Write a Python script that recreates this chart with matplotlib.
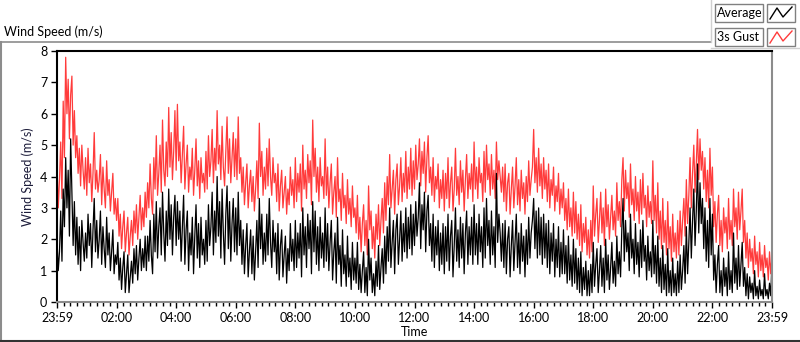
import numpy as np
import matplotlib.pyplot as plt
from matplotlib.patches import Rectangle
from matplotlib.lines import Line2D

plt.rcParams['font.family'] = ['Lato', 'DejaVu Sans']

# 2.5-minute samples, 23:59 -> 23:59 (one hour = 2 rows)
gust = [
    4.4, 3.0, 3.9, 5.1, 3.3, 6.4, 4.6, 7.8, 6.0, 7.1, 5.2, 6.6,
    7.2, 5.0, 6.1, 4.6, 5.3, 4.1, 4.9, 3.7, 5.0, 4.2, 3.6, 4.6,
    3.4, 4.9, 3.8, 4.4, 3.2, 4.1, 5.4, 3.6, 4.2, 3.5, 3.9, 4.7,
    3.1, 4.3, 3.6, 3.0, 4.5, 3.4, 3.9, 2.9, 3.5, 4.1, 2.8, 3.3,
    2.6, 3.3, 2.1, 2.8, 1.7, 2.4, 2.9, 1.6, 2.2, 2.7, 1.5, 2.1,
    2.6, 1.8, 2.9, 2.2, 3.1, 2.0, 2.7, 3.4, 2.3, 3.0, 2.4, 3.5,
    2.7, 3.8, 3.0, 4.4, 3.3, 2.8, 4.6, 3.6, 5.3, 3.4, 4.1, 5.0,
    3.5, 5.8, 4.2, 3.7, 5.1, 4.0, 6.2, 4.3, 5.4, 3.9, 4.8, 6.1,
    4.2, 6.3, 4.5, 5.1, 3.8, 4.7, 5.6, 3.6, 4.4, 5.0, 3.5, 4.3,
    3.9, 4.9, 3.4, 4.2, 5.2, 3.7, 4.5, 3.3, 4.6, 3.8, 4.1, 3.5,
    4.8, 3.6, 5.3, 4.0, 4.5, 5.5, 3.8, 4.9, 4.2, 6.1, 4.4, 5.0,
    3.9, 5.6, 4.3, 3.7, 4.8, 5.9, 4.1, 5.2, 3.8, 4.6, 5.4, 4.0,
    5.2, 3.9, 5.9, 4.1, 4.6, 3.5, 4.3, 3.1, 3.8, 4.4, 3.0, 3.7,
    4.2, 3.2, 4.0, 2.9, 3.6, 4.5, 3.3, 5.7, 4.0, 4.8, 3.4, 4.3,
    3.6, 4.9, 3.7, 5.2, 4.0, 3.4, 4.6, 3.8, 4.1, 3.2, 4.4, 2.9,
    3.7, 4.2, 3.0, 3.5, 4.0, 2.8, 3.6, 3.1, 4.3, 3.4, 3.9, 3.0,
    4.6, 3.2, 4.1, 3.5, 4.4, 2.9, 5.0, 3.6, 4.2, 3.3, 4.7, 3.8,
    4.5, 3.1, 5.8, 4.0, 4.9, 3.5, 4.3, 3.2, 4.6, 3.7, 4.0, 3.3,
    5.2, 3.4, 4.3, 3.0, 3.8, 4.4, 2.8, 3.5, 4.0, 2.7, 4.6, 3.2,
    3.6, 2.6, 4.1, 3.0, 3.4, 2.5, 3.9, 2.8, 3.3, 2.4, 3.7, 2.7,
    3.0, 2.2, 3.4, 2.0, 2.7, 1.6, 2.5, 3.1, 1.8, 2.6, 1.5, 3.7,
    2.3, 2.9, 1.7, 2.4, 1.4, 2.8, 2.0, 3.1, 1.8, 2.6, 3.3, 2.2,
    3.8, 2.6, 4.0, 3.1, 4.7, 3.0, 3.6, 4.2, 2.8, 3.9, 4.4, 3.1,
    3.7, 4.6, 3.2, 4.1, 3.5, 4.8, 3.3, 4.3, 3.6, 4.9, 3.4, 4.5,
    3.6, 5.0, 3.9, 4.4, 5.2, 3.7, 4.8, 4.1, 5.1, 3.5, 4.6, 5.3,
    3.8, 4.3, 3.4, 4.6, 3.2, 4.0, 3.6, 4.4, 3.0, 3.9, 3.3, 4.2,
    2.9, 4.1, 3.3, 4.6, 3.0, 3.8, 4.3, 2.9, 3.6, 4.9, 3.4, 4.0,
    3.1, 4.5, 3.5, 4.2, 2.9, 3.9, 4.7, 3.3, 4.1, 3.6, 4.4, 3.2,
    5.1, 3.6, 4.3, 3.3, 4.6, 3.8, 4.1, 3.2, 4.8, 3.5, 5.0, 3.9,
    4.4, 3.4, 4.7, 3.6, 4.2, 3.3, 5.1, 3.9, 4.5, 4.0, 3.5, 4.3,
    3.2, 4.4, 2.9, 3.8, 4.1, 2.8, 3.6, 4.3, 3.0, 3.7, 4.6, 3.1,
    3.9, 2.9, 4.2, 3.3, 3.8, 2.8, 4.0, 3.2, 4.5, 3.4, 3.9, 4.3,
    5.5, 3.8, 4.6, 3.5, 4.9, 3.7, 4.4, 3.3, 4.6, 3.6, 4.2, 3.2,
    4.4, 3.0, 3.9, 3.4, 4.3, 2.9, 3.7, 3.2, 4.1, 2.8, 3.6, 3.0,
    3.8, 2.6, 3.3, 2.3, 3.6, 2.4, 3.0, 2.1, 3.5, 2.2, 3.2, 2.0,
    2.8, 1.8, 3.1, 1.6, 2.5, 1.9, 2.7, 1.5, 2.3, 1.4, 2.6, 1.6,
    3.7, 2.1, 2.8, 3.3, 1.9, 2.6, 3.5, 2.2, 3.0, 1.8, 3.6, 2.4,
    3.1, 2.0, 2.7, 3.4, 2.3, 2.9, 2.1, 3.8, 2.6, 3.2, 2.4, 3.9,
    4.6, 2.9, 4.2, 3.3, 3.8, 2.7, 4.4, 3.1, 3.6, 2.6, 4.0, 2.9,
    3.5, 2.5, 3.9, 2.8, 4.1, 3.0, 3.4, 2.4, 3.7, 2.7, 3.2, 2.5,
    4.5, 2.6, 3.4, 2.2, 3.8, 2.0, 2.9, 1.7, 3.3, 1.9, 2.6, 1.5,
    3.2, 1.7, 2.4, 1.3, 2.8, 1.6, 2.2, 1.4, 2.6, 1.5, 2.9, 1.8,
    2.6, 3.3, 2.1, 3.9, 2.5, 3.4, 4.6, 3.0, 4.1, 5.0, 3.5, 4.4,
    5.5, 3.9, 5.2, 4.2, 4.8, 3.6, 4.6, 3.2, 4.2, 3.0, 4.9, 3.4,
    4.3, 2.4, 3.2, 1.9, 2.8, 3.4, 1.8, 2.6, 1.6, 3.0, 2.2, 2.7,
    1.7, 3.3, 2.0, 2.6, 1.8, 3.6, 2.4, 3.0, 2.0, 3.5, 2.3, 2.9,
    3.6, 1.9, 2.6, 1.4, 2.2, 1.1, 2.0, 1.3, 1.7, 0.9, 2.1, 1.2,
    1.6, 0.8, 1.9, 1.0, 1.5, 0.8, 1.8, 1.1, 1.4, 0.7, 1.6, 0.9,
    1.45,
]
average = [
    2.0, 1.0, 1.6, 2.9, 1.3, 3.6, 2.4, 4.6, 3.0, 4.2, 2.1, 5.2,
    3.5, 1.8, 3.2, 1.5, 2.7, 1.2, 2.4, 1.0, 2.6, 1.9, 1.3, 2.2,
    1.4, 2.8, 1.8, 2.5, 1.1, 2.3, 3.3, 1.6, 2.6, 1.4, 2.0, 2.9,
    1.2, 2.4, 1.7, 1.1, 2.7, 1.5, 2.2, 1.0, 1.6, 2.3, 0.9, 1.5,
    1.2, 1.9, 0.7, 1.4, 0.4, 1.1, 1.6, 0.3, 0.9, 1.5, 0.3, 0.8,
    1.3, 0.6, 1.7, 0.9, 1.8, 0.7, 1.4, 2.0, 1.0, 1.7, 1.1, 2.1,
    1.0, 2.1, 1.3, 2.6, 1.5, 0.9, 2.8, 1.6, 3.2, 1.4, 2.4, 3.0,
    1.5, 3.5, 2.2, 1.3, 2.9, 1.8, 3.6, 2.0, 3.1, 1.5, 2.7, 3.4,
    1.8, 3.2, 2.0, 2.9, 1.3, 2.4, 3.4, 1.2, 2.3, 2.9, 1.0, 2.2,
    1.5, 2.7, 0.9, 2.1, 3.1, 1.4, 2.5, 1.1, 2.7, 1.5, 2.0, 1.2,
    2.6, 1.3, 3.1, 1.8, 2.4, 3.5, 1.5, 2.9, 1.9, 4.0, 2.1, 3.2,
    1.4, 3.6, 2.2, 1.2, 2.8, 3.7, 1.7, 3.2, 1.3, 2.5, 3.3, 1.6,
    3.0, 1.5, 3.5, 1.8, 2.6, 1.2, 2.3, 0.9, 1.8, 2.5, 0.8, 1.6,
    2.3, 0.9, 2.1, 0.7, 1.6, 2.6, 1.1, 3.3, 1.7, 2.8, 1.2, 2.2,
    1.3, 2.8, 1.5, 3.3, 1.9, 1.1, 2.6, 1.6, 2.2, 0.9, 2.5, 0.7,
    1.8, 2.3, 0.8, 1.5, 2.1, 0.6, 1.7, 1.0, 2.5, 1.3, 2.0, 1.0,
    2.6, 1.1, 2.2, 1.4, 2.5, 0.8, 3.0, 1.5, 2.4, 1.1, 2.8, 1.7,
    2.6, 0.9, 3.2, 1.6, 2.9, 1.2, 2.4, 1.0, 2.7, 1.4, 2.2, 1.1,
    3.0, 1.3, 2.5, 1.0, 1.9, 2.6, 0.7, 1.6, 2.2, 0.6, 2.7, 1.2,
    1.8, 0.5, 2.3, 0.9, 1.5, 0.5, 2.1, 0.8, 1.4, 0.4, 1.9, 0.7,
    1.4, 0.6, 1.9, 0.4, 1.2, 0.3, 1.0, 1.6, 0.3, 1.1, 0.2, 2.0,
    0.7, 1.4, 0.3, 0.9, 0.2, 1.3, 0.5, 1.8, 0.4, 1.1, 1.7, 0.6,
    2.1, 0.9, 2.4, 1.3, 3.0, 1.1, 1.9, 2.6, 0.9, 2.3, 2.8, 1.2,
    2.0, 2.9, 1.3, 2.5, 1.6, 3.0, 1.4, 2.7, 1.7, 3.1, 1.5, 2.8,
    1.8, 3.2, 2.1, 2.7, 3.8, 1.7, 3.1, 2.3, 3.5, 1.6, 2.9, 3.4,
    1.8, 2.5, 1.3, 2.8, 1.1, 2.4, 1.5, 2.6, 1.0, 2.2, 1.2, 2.5,
    0.9, 2.4, 1.3, 2.8, 1.0, 2.1, 2.6, 0.8, 1.8, 3.0, 1.3, 2.3,
    1.1, 2.7, 1.4, 2.5, 0.9, 2.2, 2.9, 1.2, 2.4, 1.5, 2.7, 1.2,
    3.1, 1.5, 2.5, 1.2, 2.8, 1.6, 2.4, 1.1, 3.0, 1.4, 3.3, 1.8,
    2.6, 1.2, 2.9, 1.5, 2.4, 1.1, 4.1, 1.9, 2.8, 2.2, 1.3, 2.5,
    1.1, 2.6, 0.9, 2.0, 2.4, 0.8, 1.8, 2.6, 1.0, 1.9, 2.8, 1.1,
    2.2, 0.9, 2.5, 1.3, 2.1, 0.8, 2.3, 1.2, 2.7, 1.4, 2.2, 2.6,
    3.3, 1.7, 2.9, 1.4, 3.0, 1.5, 2.7, 1.2, 2.8, 1.4, 2.5, 1.1,
    2.6, 0.9, 2.2, 1.3, 2.5, 0.8, 2.0, 1.1, 2.4, 0.8, 1.9, 0.9,
    2.3, 0.9, 1.8, 0.6, 2.1, 0.7, 1.5, 0.5, 2.0, 0.6, 1.7, 0.4,
    1.4, 0.3, 1.6, 0.2, 1.1, 0.4, 1.3, 0.2, 1.0, 0.2, 1.2, 0.3,
    1.9, 0.5, 1.2, 1.7, 0.3, 1.0, 1.8, 0.5, 1.4, 0.3, 2.0, 0.7,
    1.5, 0.4, 1.1, 1.9, 0.6, 1.3, 0.5, 2.1, 0.9, 1.6, 0.8, 2.3,
    3.3, 1.3, 2.6, 1.6, 2.2, 1.0, 2.8, 1.4, 2.0, 0.9, 2.5, 1.2,
    1.9, 0.8, 2.3, 1.1, 2.6, 1.3, 1.8, 0.7, 2.1, 1.0, 1.6, 0.8,
    2.6, 0.9, 1.8, 0.6, 2.1, 0.5, 1.4, 0.3, 1.8, 0.4, 1.2, 0.2,
    1.7, 0.3, 1.0, 0.2, 1.4, 0.3, 0.9, 0.2, 1.3, 0.3, 1.5, 0.4,
    1.0, 1.8, 0.6, 2.4, 0.9, 1.9, 3.0, 1.4, 2.6, 3.6, 1.8, 2.9,
    4.4, 2.2, 3.8, 2.5, 3.3, 1.7, 3.0, 1.3, 2.6, 1.1, 3.3, 1.5,
    2.8, 0.7, 1.5, 0.3, 1.2, 1.8, 0.3, 1.0, 0.2, 1.4, 0.5, 1.1,
    0.2, 1.6, 0.4, 1.0, 0.3, 2.2, 0.6, 1.4, 0.4, 1.8, 0.5, 1.2,
    1.9, 0.5, 1.1, 0.2, 0.9, 0.1, 0.8, 0.3, 0.6, 0.1, 1.0, 0.2,
    0.5, 0.1, 0.7, 0.2, 0.4, 0.1, 0.9, 0.2, 0.4, 0.1, 0.6, 0.2,
    1.3,
]
tick_labels = ['23:59', '02:00', '04:00', '06:00', '08:00', '10:00', '12:00',
               '14:00', '16:00', '18:00', '20:00', '22:00', '23:59']

t_gust = np.linspace(0, 24, len(gust))
t_avg = np.linspace(0, 24, len(average))

fig = plt.figure(figsize=(8, 3.42), dpi=100)
W, H = 800, 342

def px(x0, y0, x1, y1):
    return [x0 / W, 1 - y1 / H, (x1 - x0) / W, (y1 - y0) / H]

ax = fig.add_axes(px(57, 51, 772, 302))
ax.plot(t_gust, gust, color='#ff3b3b', lw=0.9)
ax.plot(t_avg, average, color='black', lw=0.9)
ax.set_xlim(0, 24)
ax.set_ylim(0, 8)

ax.set_xticks(np.arange(0, 25, 2))
ax.set_xticklabels(tick_labels)
ax.set_xticks(np.arange(0, 24, 2 / 9), minor=True)
ax.set_yticks(range(9))
ax.tick_params(axis='both', which='major', length=4, width=1, labelsize=9, pad=3, colors='black')
ax.tick_params(axis='x', which='minor', length=3, width=1)
for s in ['top', 'left']:
    ax.spines[s].set_color('black')
    ax.spines[s].set_linewidth(1.5)
for s in ['right', 'bottom']:
    ax.spines[s].set_color('#8c8c8c')
    ax.spines[s].set_linewidth(1.5)

ax.set_ylabel('Wind Speed (m/s)', fontsize=9, labelpad=4, color='#1c1c3a')
ax.set_xlabel('Time', fontsize=9, labelpad=2)

# title above the graph
fig.text(4 / W, 1 - 32 / H, 'Wind Speed (m/s)', fontsize=9, ha='left', va='center')

# frame lines around the graph
fig.add_artist(Line2D([0, 711 / W], [1 - 42 / H] * 2, color='#8c8c8c', lw=1.2))
fig.add_artist(Line2D([1 / W] * 2, [1 - 42 / H, 0], color='#8c8c8c', lw=1.5))
fig.add_artist(Line2D([0, 1], [1 / H] * 2, color='#333333', lw=1.5))
fig.add_artist(Line2D([711 / W] * 2, [1 - 42 / H, 1], color='#d0d0d0', lw=1))
fig.add_artist(Line2D([711 / W, 1], [1 - 48 / H] * 2, color='#d0d0d0', lw=1))

# legend boxes
names = ['Average', '3s Gust']
colors = ['black', '#ff3b3b']
for i, (name, c) in enumerate(zip(names, colors)):
    y0 = 4 + i * 24
    fig.add_artist(Rectangle((715 / W, 1 - (y0 + 18) / H), 48 / W, 18 / H,
                             transform=fig.transFigure, fc='white', ec='#808080', lw=1))
    fig.text(717 / W, 1 - (y0 + 9) / H, name, fontsize=9, ha='left', va='center')
    fig.add_artist(Rectangle((767 / W, 1 - (y0 + 18) / H), 28 / W, 18 / H,
                             transform=fig.transFigure, fc='white', ec='#808080', lw=1))
    zx = np.array([770, 777, 783, 792]) / W
    zy = 1 - np.array([y0 + 15, y0 + 4, y0 + 13, y0 + 3]) / H
    fig.add_artist(Line2D(zx, zy, color=c, lw=1))

fig.savefig('out.png', dpi=100)
